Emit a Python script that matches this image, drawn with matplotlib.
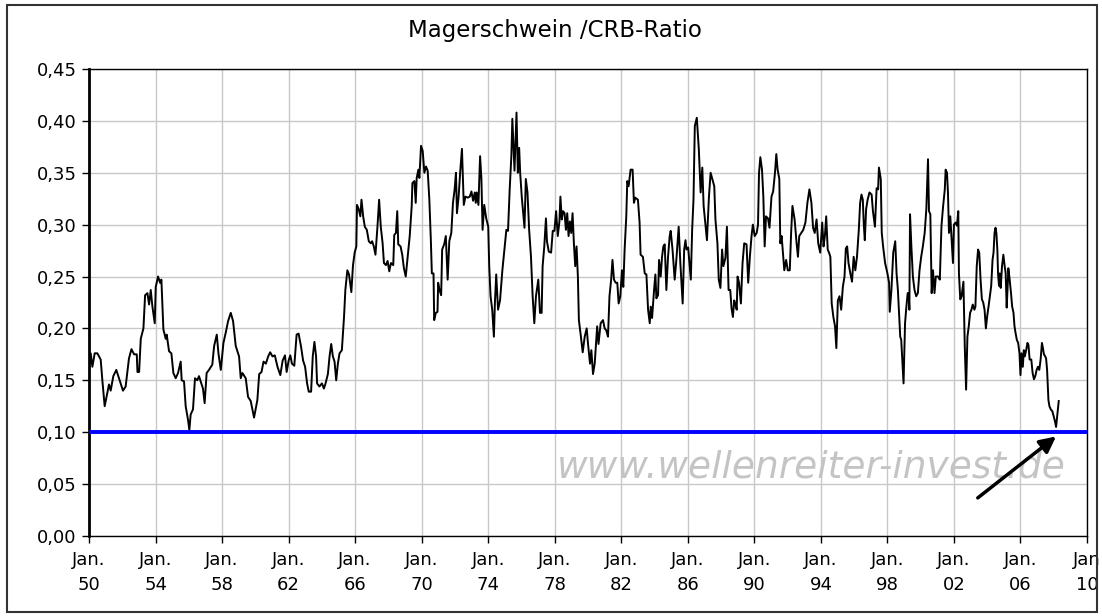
import matplotlib
matplotlib.use("Agg")

import matplotlib.pyplot as plt
from matplotlib.patches import Rectangle
from matplotlib.ticker import FuncFormatter

# ratio lean hogs / CRB index (decimal years)
years = [
    1950.00, 1950.10, 1950.20, 1950.34, 1950.50, 1950.70, 1950.80, 1950.94, 1951.10, 1951.20,
    1951.30, 1951.46, 1951.64, 1951.80, 1952.04, 1952.20, 1952.40, 1952.55, 1952.71, 1952.87,
    1952.91, 1953.01, 1953.11, 1953.27, 1953.37, 1953.51, 1953.61, 1953.71, 1953.81, 1953.95,
    1954.01, 1954.15, 1954.27, 1954.35, 1954.47, 1954.61, 1954.67, 1954.81, 1954.95, 1955.07,
    1955.21, 1955.35, 1955.51, 1955.57, 1955.71, 1955.81, 1955.95, 1956.03, 1956.11, 1956.25,
    1956.37, 1956.51, 1956.61, 1956.71, 1956.85, 1956.95, 1957.07, 1957.21, 1957.41, 1957.52,
    1957.68, 1957.78, 1957.92, 1958.08, 1958.22, 1958.36, 1958.52, 1958.66, 1958.82, 1959.02,
    1959.12, 1959.22, 1959.42, 1959.56, 1959.72, 1959.82, 1959.92,
    1960.12, 1960.23, 1960.37, 1960.49, 1960.63, 1960.77, 1960.89, 1961.03, 1961.17, 1961.33,
    1961.50, 1961.64, 1961.78, 1961.88, 1962.00, 1962.10, 1962.20, 1962.34, 1962.48, 1962.60,
    1962.75, 1962.87, 1962.99, 1963.11, 1963.21, 1963.35, 1963.45, 1963.55, 1963.65, 1963.71,
    1963.85, 1964.00, 1964.12, 1964.22, 1964.36, 1964.46, 1964.56, 1964.66, 1964.76, 1964.86,
    1964.96, 1965.06, 1965.20, 1965.33, 1965.41, 1965.53, 1965.63, 1965.77, 1965.87, 1965.97,
    1966.07, 1966.11, 1966.21, 1966.31, 1966.38, 1966.48, 1966.58, 1966.70, 1966.82, 1966.94,
    1967.02, 1967.12, 1967.22, 1967.34, 1967.44, 1967.54, 1967.65, 1967.73, 1967.85, 1967.95,
    1968.05, 1968.15, 1968.29, 1968.35, 1968.45, 1968.53, 1968.59, 1968.73, 1968.83, 1968.93,
    1969.04, 1969.16, 1969.28, 1969.40, 1969.44, 1969.56, 1969.64, 1969.70, 1969.80, 1969.86,
    1969.96, 1970.06,
    1970.16, 1970.26, 1970.36, 1970.46, 1970.55, 1970.61, 1970.71, 1970.75, 1970.85, 1970.95,
    1970.99, 1971.07, 1971.17, 1971.23, 1971.35, 1971.45, 1971.56, 1971.66, 1971.78, 1971.88,
    1971.98, 1972.06, 1972.12, 1972.22, 1972.32, 1972.42, 1972.53, 1972.63, 1972.77, 1972.89,
    1972.99, 1973.09, 1973.19, 1973.25, 1973.31, 1973.41, 1973.51, 1973.59, 1973.66, 1973.76,
    1973.88, 1974.00, 1974.06, 1974.14, 1974.24, 1974.34, 1974.40, 1974.48, 1974.59, 1974.71,
    1974.85, 1974.99, 1975.09, 1975.19, 1975.29, 1975.39, 1975.45, 1975.52, 1975.58, 1975.64,
    1975.70, 1975.78, 1975.86, 1975.92, 1976.02, 1976.12, 1976.18, 1976.26, 1976.36, 1976.46,
    1976.57, 1976.67, 1976.77, 1976.87, 1977.01, 1977.11, 1977.21, 1977.27, 1977.37, 1977.47,
    1977.53, 1977.64, 1977.78, 1977.88, 1977.98, 1978.08, 1978.18, 1978.28, 1978.34, 1978.42,
    1978.50, 1978.59, 1978.67, 1978.75, 1978.83, 1978.91, 1978.99, 1979.07, 1979.15, 1979.23,
    1979.31, 1979.39, 1979.45, 1979.55, 1979.68, 1979.80, 1979.92, 1980.00, 1980.12, 1980.20,
    1980.30, 1980.40,
    1980.55, 1980.63, 1980.76, 1980.90, 1981.00, 1981.10, 1981.20, 1981.29, 1981.39, 1981.47,
    1981.56, 1981.66, 1981.76, 1981.84, 1981.94, 1982.04, 1982.12, 1982.20, 1982.30, 1982.36,
    1982.44, 1982.56, 1982.68, 1982.76, 1982.84, 1983.00, 1983.10, 1983.16, 1983.30, 1983.41,
    1983.51, 1983.61, 1983.71, 1983.77, 1983.85, 1983.97, 1984.05, 1984.11, 1984.21, 1984.27,
    1984.37, 1984.45, 1984.53, 1984.61, 1984.71, 1984.81, 1984.91, 1984.97, 1985.08, 1985.21,
    1985.31, 1985.45, 1985.55, 1985.69, 1985.78, 1985.86, 1985.92, 1986.02, 1986.18, 1986.26,
    1986.34, 1986.42, 1986.54, 1986.66, 1986.77, 1986.87, 1986.95, 1987.03, 1987.15, 1987.27,
    1987.37, 1987.47, 1987.59, 1987.66, 1987.78, 1987.86, 1987.96, 1988.06, 1988.14, 1988.26,
    1988.35, 1988.45, 1988.55, 1988.63, 1988.71, 1988.79, 1988.86, 1988.94, 1988.99, 1989.08,
    1989.19, 1989.29, 1989.39, 1989.53, 1989.63, 1989.73, 1989.83, 1989.91, 1990.02, 1990.14,
    1990.22, 1990.28, 1990.36, 1990.46, 1990.54, 1990.62, 1990.70, 1990.82,
    1990.91, 1991.03, 1991.13, 1991.24, 1991.32, 1991.40, 1991.50, 1991.56, 1991.64, 1991.74,
    1991.80, 1991.91, 1992.01, 1992.13, 1992.21, 1992.29, 1992.42, 1992.54, 1992.62, 1992.70,
    1992.82, 1992.94, 1993.07, 1993.19, 1993.31, 1993.43, 1993.53, 1993.63, 1993.74, 1993.84,
    1993.96, 1994.08, 1994.16, 1994.24, 1994.32, 1994.41, 1994.49, 1994.57, 1994.65, 1994.75,
    1994.85, 1994.93, 1995.02, 1995.12, 1995.22, 1995.32, 1995.42, 1995.50, 1995.58, 1995.66,
    1995.77, 1995.87, 1995.97, 1996.07, 1996.17, 1996.28, 1996.36, 1996.44, 1996.52, 1996.58,
    1996.64, 1996.72, 1996.81, 1996.92, 1997.05, 1997.13, 1997.25, 1997.35, 1997.44, 1997.49,
    1997.60, 1997.66, 1997.74, 1997.86, 1998.00, 1998.10, 1998.14, 1998.24, 1998.35, 1998.47,
    1998.55, 1998.63, 1998.71, 1998.77, 1998.83, 1998.91, 1998.97, 1999.06, 1999.14, 1999.22,
    1999.28, 1999.32, 1999.36, 1999.44, 1999.53, 1999.63, 1999.73, 1999.83, 1999.93, 2000.03,
    2000.13, 2000.24, 2000.34, 2000.44, 2000.50, 2000.58, 2000.66, 2000.74, 2000.83, 2000.91,
    2001.05, 2001.15, 2001.25, 2001.35, 2001.45, 2001.50, 2001.58, 2001.64, 2001.70, 2001.78,
    2001.86, 2001.94, 2002.00, 2002.10, 2002.18, 2002.26, 2002.30, 2002.38, 2002.46, 2002.57,
    2002.65, 2002.73, 2002.81, 2002.89, 2002.97, 2003.05, 2003.13, 2003.23, 2003.29, 2003.37,
    2003.45, 2003.52, 2003.60, 2003.68, 2003.76, 2003.84, 2003.92, 2004.00, 2004.08, 2004.16,
    2004.24, 2004.32, 2004.38, 2004.44, 2004.50, 2004.55, 2004.61, 2004.65, 2004.71, 2004.75,
    2004.81, 2004.89, 2004.97, 2005.05, 2005.11, 2005.17, 2005.23, 2005.27, 2005.35, 2005.43,
    2005.50, 2005.58, 2005.64, 2005.70, 2005.78, 2005.86, 2005.94, 2006.00, 2006.06, 2006.14,
    2006.20, 2006.26, 2006.34, 2006.42, 2006.48, 2006.55, 2006.65, 2006.73, 2006.81, 2006.89,
    2006.97, 2007.05, 2007.13, 2007.21, 2007.29, 2007.35, 2007.41, 2007.49, 2007.54, 2007.60,
    2007.68, 2007.74, 2007.82, 2007.92, 2008.00, 2008.08, 2008.14, 2008.22, 2008.30,
]

ratio = [
    0.160, 0.176, 0.163, 0.176, 0.176, 0.170, 0.150, 0.125, 0.138, 0.146,
    0.140, 0.154, 0.160, 0.152, 0.140, 0.144, 0.171, 0.180, 0.175, 0.175,
    0.158, 0.158, 0.190, 0.200, 0.232, 0.234, 0.223, 0.237, 0.221, 0.205,
    0.240, 0.250, 0.244, 0.247, 0.199, 0.190, 0.194, 0.178, 0.176, 0.157,
    0.152, 0.157, 0.168, 0.150, 0.149, 0.125, 0.112, 0.102, 0.117, 0.122,
    0.152, 0.150, 0.154, 0.149, 0.142, 0.128, 0.157, 0.160, 0.165, 0.183,
    0.194, 0.176, 0.160, 0.186, 0.196, 0.207, 0.215, 0.207, 0.183, 0.173,
    0.152, 0.157, 0.152, 0.134, 0.130, 0.122, 0.114,
    0.131, 0.156, 0.158, 0.168, 0.166, 0.173, 0.177, 0.173, 0.174, 0.163,
    0.155, 0.169, 0.174, 0.158, 0.169, 0.174, 0.166, 0.164, 0.194, 0.195,
    0.182, 0.169, 0.163, 0.147, 0.139, 0.139, 0.173, 0.187, 0.173, 0.147,
    0.144, 0.147, 0.142, 0.147, 0.156, 0.173, 0.185, 0.173, 0.168, 0.150,
    0.166, 0.176, 0.179, 0.211, 0.237, 0.256, 0.252, 0.235, 0.261, 0.273,
    0.279, 0.319, 0.315, 0.308, 0.324, 0.308, 0.298, 0.295, 0.284, 0.282,
    0.284, 0.279, 0.271, 0.298, 0.324, 0.298, 0.282, 0.263, 0.261, 0.265,
    0.255, 0.263, 0.261, 0.290, 0.292, 0.313, 0.281, 0.279, 0.271, 0.258,
    0.250, 0.269, 0.289, 0.318, 0.340, 0.342, 0.321, 0.345, 0.353, 0.345,
    0.376, 0.371,
    0.350, 0.356, 0.352, 0.324, 0.285, 0.253, 0.253, 0.208, 0.215, 0.216,
    0.244, 0.237, 0.232, 0.276, 0.281, 0.289, 0.247, 0.284, 0.292, 0.321,
    0.334, 0.350, 0.311, 0.327, 0.352, 0.373, 0.319, 0.327, 0.326, 0.327,
    0.332, 0.323, 0.331, 0.321, 0.331, 0.319, 0.366, 0.344, 0.295, 0.319,
    0.306, 0.298, 0.260, 0.231, 0.218, 0.192, 0.224, 0.252, 0.218, 0.227,
    0.256, 0.279, 0.295, 0.294, 0.334, 0.366, 0.402, 0.376, 0.352, 0.379,
    0.408, 0.350, 0.374, 0.350, 0.326, 0.308, 0.297, 0.344, 0.331, 0.295,
    0.269, 0.231, 0.205, 0.231, 0.247, 0.215, 0.215, 0.260, 0.279, 0.306,
    0.284, 0.274, 0.273, 0.294, 0.294, 0.313, 0.289, 0.303, 0.327, 0.305,
    0.313, 0.311, 0.295, 0.311, 0.289, 0.303, 0.292, 0.311, 0.282, 0.260,
    0.279, 0.250, 0.208, 0.195, 0.177, 0.192, 0.200, 0.185, 0.166, 0.179,
    0.156, 0.166,
    0.202, 0.185, 0.205, 0.208, 0.200, 0.198, 0.192, 0.231, 0.247, 0.266,
    0.247, 0.244, 0.244, 0.224, 0.231, 0.256, 0.240, 0.276, 0.308, 0.342,
    0.337, 0.353, 0.353, 0.321, 0.326, 0.324, 0.302, 0.271, 0.269, 0.253,
    0.252, 0.218, 0.205, 0.221, 0.210, 0.237, 0.252, 0.229, 0.232, 0.266,
    0.250, 0.269, 0.279, 0.281, 0.237, 0.269, 0.289, 0.294, 0.276, 0.247,
    0.266, 0.298, 0.263, 0.224, 0.276, 0.285, 0.276, 0.278, 0.247, 0.295,
    0.324, 0.395, 0.403, 0.373, 0.331, 0.355, 0.318, 0.305, 0.285, 0.327,
    0.350, 0.344, 0.337, 0.305, 0.282, 0.247, 0.239, 0.276, 0.260, 0.268,
    0.298, 0.237, 0.237, 0.219, 0.211, 0.227, 0.223, 0.218, 0.250, 0.244,
    0.224, 0.263, 0.282, 0.281, 0.244, 0.269, 0.289, 0.300, 0.289, 0.292,
    0.300, 0.350, 0.365, 0.353, 0.327, 0.279, 0.308, 0.306,
    0.297, 0.327, 0.332, 0.350, 0.368, 0.353, 0.344, 0.282, 0.289, 0.269,
    0.256, 0.266, 0.256, 0.256, 0.292, 0.318, 0.305, 0.282, 0.269, 0.289,
    0.292, 0.295, 0.302, 0.321, 0.334, 0.321, 0.297, 0.292, 0.305, 0.282,
    0.273, 0.302, 0.279, 0.289, 0.308, 0.276, 0.273, 0.269, 0.224, 0.211,
    0.202, 0.181, 0.227, 0.231, 0.218, 0.240, 0.250, 0.277, 0.279, 0.263,
    0.253, 0.245, 0.269, 0.256, 0.269, 0.295, 0.321, 0.329, 0.324, 0.300,
    0.285, 0.315, 0.324, 0.331, 0.329, 0.313, 0.298, 0.335, 0.334, 0.355,
    0.344, 0.292, 0.279, 0.263, 0.253, 0.244, 0.216, 0.237, 0.273, 0.284,
    0.253, 0.237, 0.211, 0.192, 0.189, 0.166, 0.147, 0.205, 0.221, 0.234,
    0.234, 0.218, 0.310, 0.279, 0.250, 0.237, 0.231, 0.234, 0.256, 0.269,
    0.279, 0.292, 0.315, 0.363, 0.313, 0.310, 0.234, 0.256, 0.234, 0.250,
    0.250, 0.247, 0.299, 0.318, 0.334, 0.353, 0.350, 0.331, 0.292, 0.308,
    0.286, 0.263, 0.300, 0.302, 0.299, 0.313, 0.253, 0.228, 0.231, 0.245,
    0.183, 0.141, 0.192, 0.202, 0.215, 0.218, 0.223, 0.218, 0.221, 0.260,
    0.276, 0.273, 0.247, 0.228, 0.225, 0.218, 0.200, 0.212, 0.221, 0.231,
    0.241, 0.266, 0.273, 0.292, 0.297, 0.292, 0.276, 0.253, 0.241, 0.253,
    0.239, 0.260, 0.271, 0.260, 0.253, 0.220, 0.241, 0.258, 0.247, 0.234,
    0.221, 0.215, 0.202, 0.196, 0.189, 0.186, 0.176, 0.155, 0.176, 0.163,
    0.179, 0.173, 0.179, 0.186, 0.184, 0.170, 0.170, 0.157, 0.151, 0.154,
    0.160, 0.163, 0.160, 0.170, 0.186, 0.181, 0.175, 0.173, 0.171, 0.160,
    0.131, 0.125, 0.122, 0.120, 0.115, 0.110, 0.105, 0.118, 0.130,
]

floor_level = 0.10
tick_years = list(range(1950, 2011, 4))
tick_labels = ["Jan.\n50", "Jan.\n54", "Jan.\n58", "Jan.\n62", "Jan.\n66", "Jan.\n70",
               "Jan.\n74", "Jan.\n78", "Jan.\n82", "Jan.\n86", "Jan.\n90", "Jan.\n94",
               "Jan.\n98", "Jan.\n02", "Jan.\n06", "Jan\n10"]
y_ticks = [0.00, 0.05, 0.10, 0.15, 0.20, 0.25, 0.30, 0.35, 0.40, 0.45]

plt.rcParams["font.family"] = ["DejaVu Sans"]

fig = plt.figure(figsize=(11.02, 6.16), dpi=100)
ax = fig.add_axes([0.0808, 0.130, 0.9056, 0.758])

ax.plot(years, ratio, color="black", lw=1.4, zorder=3)
ax.axhline(floor_level, color="#0000ff", lw=2.8, zorder=4)

ax.set_xlim(1950, 2010)
ax.set_ylim(0, 0.45)
ax.set_xticks(tick_years)
ax.set_xticklabels(tick_labels, fontsize=13, linespacing=1.5)
ax.set_yticks(y_ticks)
ax.yaxis.set_major_formatter(FuncFormatter(lambda v, _: f"{v:.2f}".replace(".", ",")))
ax.tick_params(axis="y", labelsize=13, length=5, width=1, pad=4)
ax.tick_params(axis="x", length=5, width=1, pad=6)
ax.grid(True, color="#c8c8c8", lw=1)
ax.set_axisbelow(True)

for side in ["top", "right", "bottom"]:
    ax.spines[side].set_linewidth(1)
ax.spines["left"].set_linewidth(2)

ax.text(1993.4, 0.066, "www.wellenreiter-invest.de", ha="center", va="center",
        fontsize=27, style="italic", color="#c4c4c4", zorder=2)

ax.annotate("", xy=(2008.27, 0.0975), xytext=(2003.3, 0.035),
            arrowprops=dict(arrowstyle="-|>", lw=2.5, color="black", mutation_scale=24),
            zorder=5)

fig.text(0.504, 0.951, "Magerschwein /CRB-Ratio", ha="center", va="center", fontsize=16.5)

fig.patches.append(Rectangle((0.0064, 0.006), 0.989, 0.986, transform=fig.transFigure,
                             fill=False, edgecolor="#333333", lw=1.5))

fig.savefig("out.png", dpi=100)
